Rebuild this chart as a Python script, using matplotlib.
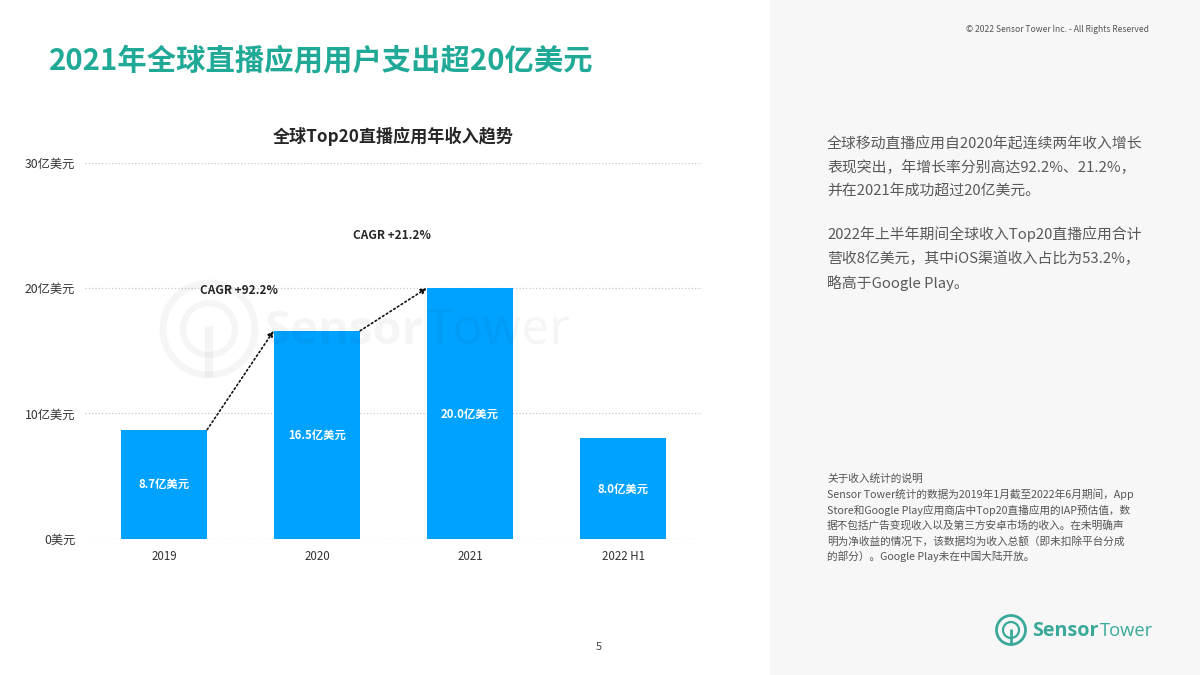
"""Global top 20 live streaming apps revenue slide."""
import matplotlib
matplotlib.use("Agg")
import matplotlib.pyplot as plt
from matplotlib.patches import Circle, Rectangle

plt.rcParams['font.family'] = ['Noto Sans CJK SC', 'DejaVu Sans']

# Data
years = ["2019", "2020", "2021", "2022 H1"]
revenue = [8.7, 16.6, 20.0, 8.0]
bar_labels = ["8.7亿美元", "16.5亿美元", "20.0亿美元", "8.0亿美元"]
y_ticks = [0, 10, 20, 30]
y_tick_labels = ["0美元", "10亿美元", "20亿美元", "30亿美元"]
cagr_labels = ["CAGR +92.2%", "CAGR +21.2%"]

title = "2021年全球直播应用用户支出超20亿美元"
chart_title = "全球Top20直播应用年收入趋势"
copyright_text = "© 2022 Sensor Tower Inc. - All Rights Reserved"
summary_top = [
    "全球移动直播应用自2020年起连续两年收入增长",
    "表现突出，年增长率分别高达92.2%、21.2%，",
    "并在2021年成功超过20亿美元。",
]
summary_bottom = [
    "2022年上半年期间全球收入Top20直播应用合计",
    "营收8亿美元，其中iOS渠道收入占比为53.2%，",
    "略高于Google Play。",
]
note_lines = [
    "关于收入统计的说明",
    "Sensor Tower统计的数据为2019年1月截至2022年6月期间，App",
    "Store和Google Play应用商店中Top20直播应用的IAP预估值，数",
    "据不包括广告变现收入以及第三方安卓市场的收入。在未明确声",
    "明为净收益的情况下，该数据均为收入总额（即未扣除平台分成",
    "的部分）。Google Play未在中国大陆开放。",
]

TEAL = "#21a997"
LOGO = "#3aa99a"
BLUE = "#00a2ff"
BAR_W = 0.565
W, H = 1200, 675

fig = plt.figure(figsize=(12, 6.75), dpi=100, facecolor="white")

# page layer in pixel coordinates
page = fig.add_axes([0, 0, 1, 1], zorder=0)
page.set_xlim(0, W)
page.set_ylim(H, 0)
page.axis("off")
page.add_patch(Rectangle((770, 0), 430, H, color="#f7f7f7", lw=0))

page.text(49, 60, title, fontsize=21.15, fontweight="bold", color=TEAL, va="center")
page.text(1149, 30, copyright_text, fontsize=6.15, color="#555555", ha="right", va="center")
page.text(393, 136, chart_title, fontsize=12.3, fontweight="bold", color="#262626",
          ha="center", va="center")
page.text(599, 647, "5", fontsize=8, color="#444444", ha="center", va="center")

for i, line in enumerate(summary_top):
    page.text(827, 143.5 + i * 24.2, line, fontsize=10.7, color="#595959", va="center")
for i, line in enumerate(summary_bottom):
    page.text(827, 233.5 + i * 24.8, line, fontsize=10.7, color="#595959", va="center")
for i, line in enumerate(note_lines):
    page.text(827, 479 + i * 15.5, line, fontsize=7.7, color="#555555", va="center")

# logo
page.add_patch(Circle((1011, 630), 14.5, fill=False, ec=LOGO, lw=2))
page.add_patch(Circle((1011, 630), 8, fill=False, ec=LOGO, lw=1.6))
page.plot([1011, 1011], [629, 645], color=LOGO, lw=2, solid_capstyle="butt")
page.text(1032, 631, "Sensor", fontsize=14.2, fontweight="bold", color=LOGO,
          family="Open Sans", va="center")
page.text(1100, 631, "Tower", fontsize=13.2, color=LOGO, family="Open Sans", va="center")

# chart
ax = fig.add_axes([85 / W, 1 - 538.5 / H, 617 / W, 375.5 / H], zorder=1)
ax.patch.set_alpha(0)
x = list(range(len(years)))
ax.bar(x, revenue, width=BAR_W, color=BLUE, zorder=2)
ax.set_xlim(-0.516, 3.516)
ax.set_ylim(0, 30)
ax.set_xticks(x, years)
ax.set_yticks(y_ticks, y_tick_labels)
ax.tick_params(axis="both", length=0, labelcolor="#333333")
ax.tick_params(axis="x", pad=8, labelsize=8.3)
ax.tick_params(axis="y", pad=7, labelsize=8.8)
ax.grid(axis="y", color="#c8c8c8", linestyle=":", linewidth=0.9, zorder=1)
ax.set_axisbelow(True)
for spine in ax.spines.values():
    spine.set_visible(False)

for i, (val, lab) in enumerate(zip(revenue, bar_labels)):
    ax.text(i, val / 2, lab, color="white", fontsize=8.2, fontweight="bold",
            ha="center", va="center_baseline", zorder=3)

# growth arrows between neighbouring bars
for i in range(2):
    ax.annotate("", xy=(i + 1 - BAR_W / 2, revenue[i + 1]), xytext=(i + BAR_W / 2, revenue[i]),
                arrowprops=dict(arrowstyle="-|>", linestyle=":", color="#111111", lw=1.2,
                                shrinkA=0, shrinkB=0, mutation_scale=8), zorder=4)

ax.text(0.49, 19.95, cagr_labels[0], fontsize=8.5, fontweight="bold", color="#262626",
        ha="center", va="center_baseline", zorder=4)
ax.text(1.49, 24.35, cagr_labels[1], fontsize=8.5, fontweight="bold", color="#262626",
        ha="center", va="center_baseline", zorder=4)

# watermark on top of everything, very faint
mark = fig.add_axes([0, 0, 1, 1], zorder=2)
mark.set_xlim(0, W)
mark.set_ylim(H, 0)
mark.axis("off")
mark.add_patch(Circle((209, 329), 46, fill=False, ec="black", lw=5, alpha=0.04))
mark.add_patch(Circle((209, 329), 26, fill=False, ec="black", lw=4.5, alpha=0.04))
mark.plot([209, 209], [326, 377], color="black", lw=6, alpha=0.04, solid_capstyle="butt")
mark.text(265, 331, "Sensor", fontsize=34, fontweight="bold", color="black", alpha=0.04,
          family="Open Sans", va="center")
mark.text(425, 331, "Tower", fontsize=36, color="black", alpha=0.04,
          family="Open Sans", va="center")

fig.savefig("out.png", dpi=100)
